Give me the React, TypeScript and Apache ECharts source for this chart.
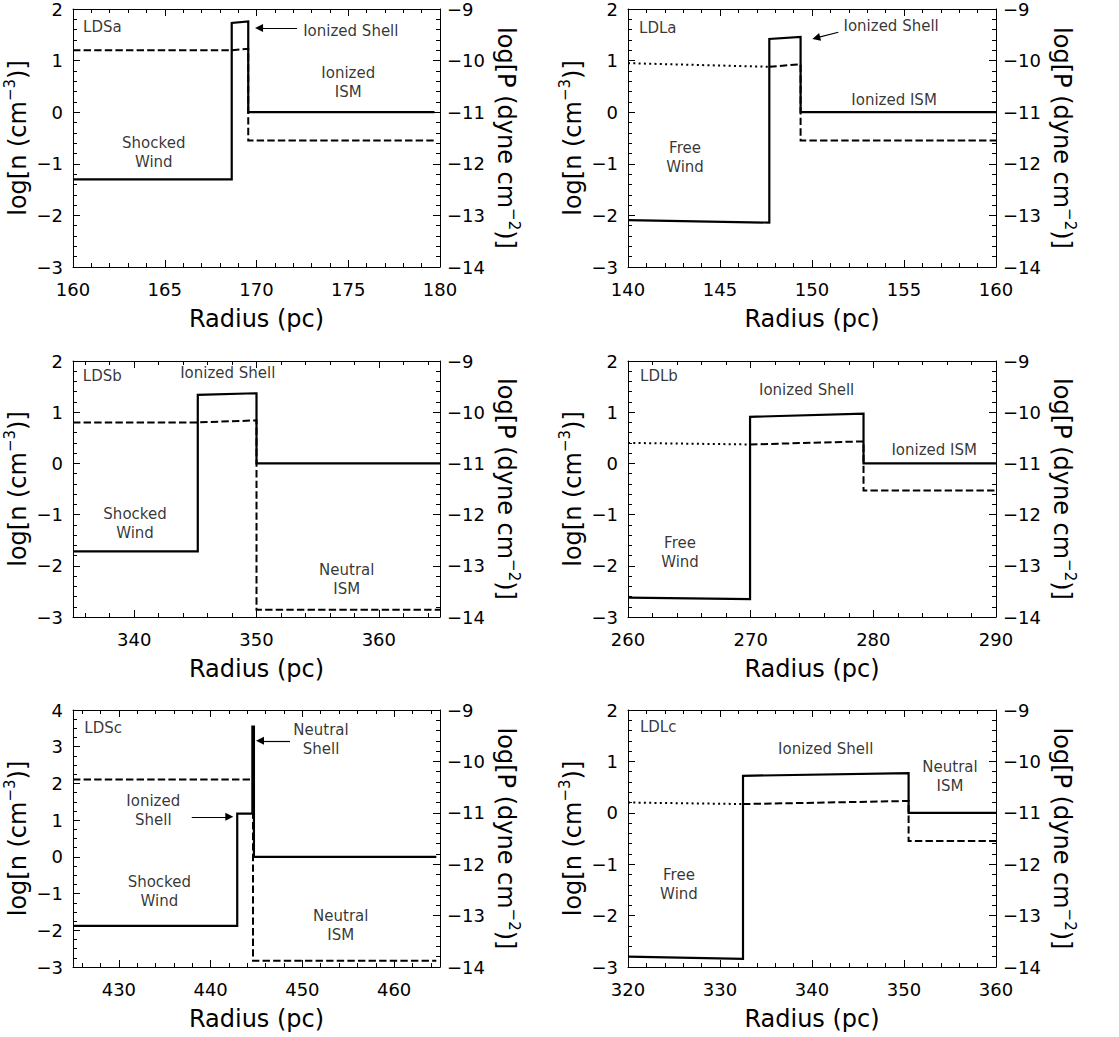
import React, { useEffect, useRef } from 'react';
import * as echarts from 'echarts';

const FONT = 'DejaVu Sans';

// ---------- Panel metadata ----------
const panelNames = ['LDSa', 'LDLa', 'LDSb', 'LDLb', 'LDSc', 'LDLc'];
const xRanges = [[160, 180], [140, 160], [335, 365], [260, 290], [425, 465], [320, 360]];
const xIntervals = [5, 5, 0, 10, 0, 10];
const xSplitNumbers = [4, 4, 3, 3, 4, 4];
const nRanges = [[-3, 2], [-3, 2], [-3, 2], [-3, 2], [-3, 4], [-3, 2]];
const nMinorSplits = [5, 5, 5, 5, 4, 5];
const pRange = [-14, -9];

// ---------- Density log n (solid) ----------
const densLDSa = [[160, -1.3], [168.65, -1.3], [168.65, 1.73], [169.55, 1.76], [169.55, 0], [179.7, 0]];
const densLDLa = [[140, -2.09], [147.68, -2.14], [147.68, 1.42], [149.38, 1.46], [149.38, 0], [160, 0]];
const densLDSb = [[335, -1.72], [345.2, -1.72], [345.2, 1.34], [350, 1.37], [350, 0], [365, 0]];
const densLDLb = [[260, -2.62], [269.95, -2.65], [269.95, 0.91], [279.2, 0.97], [279.2, 0], [290, 0]];
const densLDSc = [[425, -1.88], [442.9, -1.88], [442.9, 1.18], [444.55, 1.18], [444.55, 3.55], [444.72, 3.55], [444.72, 0], [464.6, 0]];
const densLDLc = [[320, -2.8], [332.5, -2.84], [332.5, 0.72], [350.5, 0.77], [350.5, 0], [360, 0]];

// ---------- Pressure log P in free wind (dotted) ----------
const presWindLDSa: number[][] = [];
const presWindLDLa = [[140, -10.05], [147.68, -10.12]];
const presWindLDSb: number[][] = [];
const presWindLDLb = [[260, -10.6], [269.95, -10.63]];
const presWindLDSc: number[][] = [];
const presWindLDLc = [[320, -10.8], [332.5, -10.83]];

// ---------- Pressure log P (dashed) ----------
const presLDSa = [[160, -9.8], [168.65, -9.8], [169.55, -9.77], [169.55, -11.55], [179.7, -11.55]];
const presLDLa = [[147.68, -10.12], [149.38, -10.07], [149.38, -11.55], [160, -11.55]];
const presLDSb = [[335, -10.2], [345.2, -10.2], [350, -10.16], [350, -13.86], [365, -13.86]];
const presLDLb = [[269.95, -10.63], [279.2, -10.57], [279.2, -11.53], [290, -11.53]];
const presLDSc = [[425, -10.35], [444.62, -10.35], [444.62, -13.88], [464.6, -13.88]];
const presLDLc = [[332.5, -10.83], [350.5, -10.77], [350.5, -11.55], [360, -11.55]];

// ---------- Annotations (data coords on the density axis) ----------
type Ann = { x: number; y: number; text: string; align?: string };
const annLDSa: Ann[] = [
  { x: 160.55, y: 1.65, text: 'LDSa', align: 'left' },
  { x: 175.14, y: 1.58, text: 'Ionized Shell' },
  { x: 175.0, y: 0.58, text: 'Ionized\nISM' },
  { x: 164.4, y: -0.78, text: 'Shocked\nWind' },
];
const annLDLa: Ann[] = [
  { x: 140.6, y: 1.63, text: 'LDLa', align: 'left' },
  { x: 154.3, y: 1.67, text: 'Ionized Shell' },
  { x: 154.46, y: 0.24, text: 'Ionized ISM' },
  { x: 143.1, y: -0.87, text: 'Free\nWind' },
];
const annLDSb: Ann[] = [
  { x: 335.8, y: 1.71, text: 'LDSb', align: 'left' },
  { x: 347.65, y: 1.76, text: 'Ionized Shell' },
  { x: 340.07, y: -1.18, text: 'Shocked\nWind' },
  { x: 357.38, y: -2.27, text: 'Neutral\nISM' },
];
const annLDLb: Ann[] = [
  { x: 260.98, y: 1.71, text: 'LDLb', align: 'left' },
  { x: 274.56, y: 1.43, text: 'Ionized Shell' },
  { x: 284.96, y: 0.26, text: 'Ionized ISM' },
  { x: 264.24, y: -1.74, text: 'Free\nWind' },
];
const annLDSc: Ann[] = [
  { x: 426.23, y: 3.5, text: 'LDSc', align: 'left' },
  { x: 452.03, y: 3.2, text: 'Neutral\nShell' },
  { x: 433.75, y: 1.25, text: 'Ionized\nShell' },
  { x: 434.41, y: -0.95, text: 'Shocked\nWind' },
  { x: 454.18, y: -1.88, text: 'Neutral\nISM' },
];
const annLDLc: Ann[] = [
  { x: 321.3, y: 1.66, text: 'LDLc', align: 'left' },
  { x: 341.49, y: 1.25, text: 'Ionized Shell' },
  { x: 355.0, y: 0.7, text: 'Neutral\nISM' },
  { x: 325.54, y: -1.4, text: 'Free\nWind' },
];

// ---------- Arrows [tail, head] in data coords ----------
const arrowsLDSa = [[[172.21, 1.63], [170.14, 1.63]]];
const arrowsLDLa = [[[151.43, 1.55], [150.23, 1.44]]];
const arrowsLDSb: number[][][] = [];
const arrowsLDLb: number[][][] = [];
const arrowsLDSc = [[[448.65, 3.16], [445.38, 3.16]], [[437.94, 1.09], [442.04, 1.09]]];
const arrowsLDLc: number[][][] = [];

const densities = [densLDSa, densLDLa, densLDSb, densLDLb, densLDSc, densLDLc];
const presWinds = [presWindLDSa, presWindLDLa, presWindLDSb, presWindLDLb, presWindLDSc, presWindLDLc];
const pressures = [presLDSa, presLDLa, presLDSb, presLDLb, presLDSc, presLDLc];
const annotations = [annLDSa, annLDLa, annLDSb, annLDLb, annLDSc, annLDLc];
const arrows = [arrowsLDSa, arrowsLDLa, arrowsLDSb, arrowsLDLb, arrowsLDSc, arrowsLDLc];

// ---------- Layout ----------
const GRID_POS = [
  { left: 73, top: 9, width: 367, height: 258 },
  { left: 628, top: 9, width: 368, height: 258 },
  { left: 73, top: 361, width: 367, height: 256 },
  { left: 628, top: 361, width: 368, height: 256 },
  { left: 73, top: 710, width: 367, height: 257 },
  { left: 628, top: 710, width: 368, height: 257 },
];

const fmt = (v: number) => (v < 0 ? '\u2212' + Math.abs(v) : String(v));

const axisLineStyle = { color: '#000', width: 1 };
// negative lengths turn the ticks into the plot area
const majorTick = () => ({ show: true, inside: false, length: -7, lineStyle: { color: '#000', width: 1 } });
const minorTick = (n: number) => ({ show: true, splitNumber: n, length: -4, lineStyle: { color: '#000', width: 1 } });

const nameStyle = {
  color: '#000',
  fontFamily: FONT,
  fontSize: 24,
  lineHeight: 30,
  rich: { sup: { fontFamily: FONT, fontSize: 15, lineHeight: 16, verticalAlign: 'top', color: '#000000' } },
};

function buildOption() {
  const grid: any[] = [];
  const xAxis: any[] = [];
  const yAxis: any[] = [];
  const series: any[] = [];

  for (let i = 0; i < 6; i++) {
    grid.push({ ...GRID_POS[i] });
    const [xmin, xmax] = xRanges[i];
    const hasInt = xIntervals[i] > 0;
    const xCommon: any = {
      type: 'value',
      gridIndex: i,
      min: xmin,
      max: xmax,
      splitLine: { show: false },
      axisLine: { show: true, onZero: false, lineStyle: axisLineStyle },
      axisTick: majorTick(),
      minorTick: minorTick(5),
      ...(hasInt ? { interval: xIntervals[i] } : { splitNumber: xSplitNumbers[i] }),
    };
    xAxis.push({
      ...xCommon,
      position: 'bottom',
      axisLabel: {
        show: true,
        color: '#000',
        fontFamily: FONT,
        fontSize: 18,
        margin: 13,
        showMinLabel: hasInt,
        showMaxLabel: hasInt,
        formatter: fmt,
      },
      name: 'Radius (pc)',
      nameLocation: 'middle',
      nameGap: 40,
      nameTextStyle: { color: '#000', fontFamily: FONT, fontSize: 24 },
    });
    xAxis.push({ ...xCommon, position: 'top', axisLabel: { show: false } });

    const [nmin, nmax] = nRanges[i];
    yAxis.push({
      type: 'value',
      gridIndex: i,
      position: 'left',
      min: nmin,
      max: nmax,
      interval: 1,
      splitLine: { show: false },
      axisLine: { show: true, onZero: false, lineStyle: axisLineStyle },
      axisTick: majorTick(),
      minorTick: minorTick(nMinorSplits[i]),
      axisLabel: { color: '#000', fontFamily: FONT, fontSize: 18, margin: 10, formatter: fmt },
      name: 'log[n (cm{sup|\u22123})]',
      nameLocation: 'middle',
      nameRotate: 90,
      nameGap: 32,
      nameTextStyle: nameStyle,
    });
    yAxis.push({
      type: 'value',
      gridIndex: i,
      position: 'right',
      min: pRange[0],
      max: pRange[1],
      interval: 1,
      splitLine: { show: false },
      axisLine: { show: true, onZero: false, lineStyle: axisLineStyle },
      axisTick: majorTick(),
      minorTick: minorTick(5),
      axisLabel: { color: '#000', fontFamily: FONT, fontSize: 18, margin: 7, formatter: fmt },
      name: 'log[P (dyne cm{sup|\u22122})]',
      nameLocation: 'middle',
      nameRotate: -90,
      nameGap: 51,
      nameTextStyle: nameStyle,
    });

    series.push({
      type: 'line',
      name: panelNames[i] + ' density',
      xAxisIndex: 2 * i,
      yAxisIndex: 2 * i,
      data: densities[i],
      symbol: 'none',
      silent: true,
      z: 4,
      lineStyle: { color: '#000', width: 2.2, type: 'solid', cap: 'butt', join: 'miter' },
    });
    if (presWinds[i].length) {
      series.push({
        type: 'line',
        name: panelNames[i] + ' wind pressure',
        xAxisIndex: 2 * i,
        yAxisIndex: 2 * i + 1,
        data: presWinds[i],
        symbol: 'none',
        silent: true,
        z: 3,
        lineStyle: { color: '#000', width: 2, type: [2, 3.3], cap: 'butt' },
      });
    }
    series.push({
      type: 'line',
      name: panelNames[i] + ' pressure',
      xAxisIndex: 2 * i,
      yAxisIndex: 2 * i + 1,
      data: pressures[i],
      symbol: 'none',
      silent: true,
      z: 3,
      lineStyle: { color: '#000', width: 2, type: [7.4, 3.2], cap: 'butt', join: 'miter' },
    });
    const annSeries: any = {
      type: 'scatter',
      name: panelNames[i] + ' labels',
      xAxisIndex: 2 * i,
      yAxisIndex: 2 * i,
      symbolSize: 1,
      itemStyle: { color: 'rgba(0,0,0,0)' },
      silent: true,
      z: 5,
      label: {
        show: true,
        position: 'inside',
        color: '#000',
        textBorderWidth: 0,
        fontFamily: FONT,
        fontSize: 15,
        lineHeight: 19,
      },
      data: annotations[i].map((a) => ({
        value: [a.x, a.y],
        label: { formatter: a.text, align: a.align || 'center' },
      })),
    };
    if (arrows[i].length) {
      annSeries.markLine = {
        silent: true,
        symbol: ['none', 'triangle'],
        symbolSize: 8,
        animation: false,
        label: { show: false },
        emphasis: { disabled: true },
        lineStyle: { color: '#000', width: 1.2, type: 'solid' },
        data: arrows[i].map(([a, b]) => [{ coord: a }, { coord: b }]),
      };
    }
    series.push(annSeries);
  }

  return { animation: false, backgroundColor: '#fff', grid, xAxis, yAxis, series };
}

export default function App() {
  const ref = useRef<HTMLDivElement>(null);
  useEffect(() => {
    if (!ref.current) return;
    const chart = echarts.init(ref.current, undefined, { renderer: 'svg' });
    chart.setOption(buildOption() as any);
    return () => chart.dispose();
  }, []);
  return (
    <div ref={ref} style={{ position: 'absolute', left: 0, top: 0, width: 1119, height: 1037, background: '#fff' }} />
  );
}
